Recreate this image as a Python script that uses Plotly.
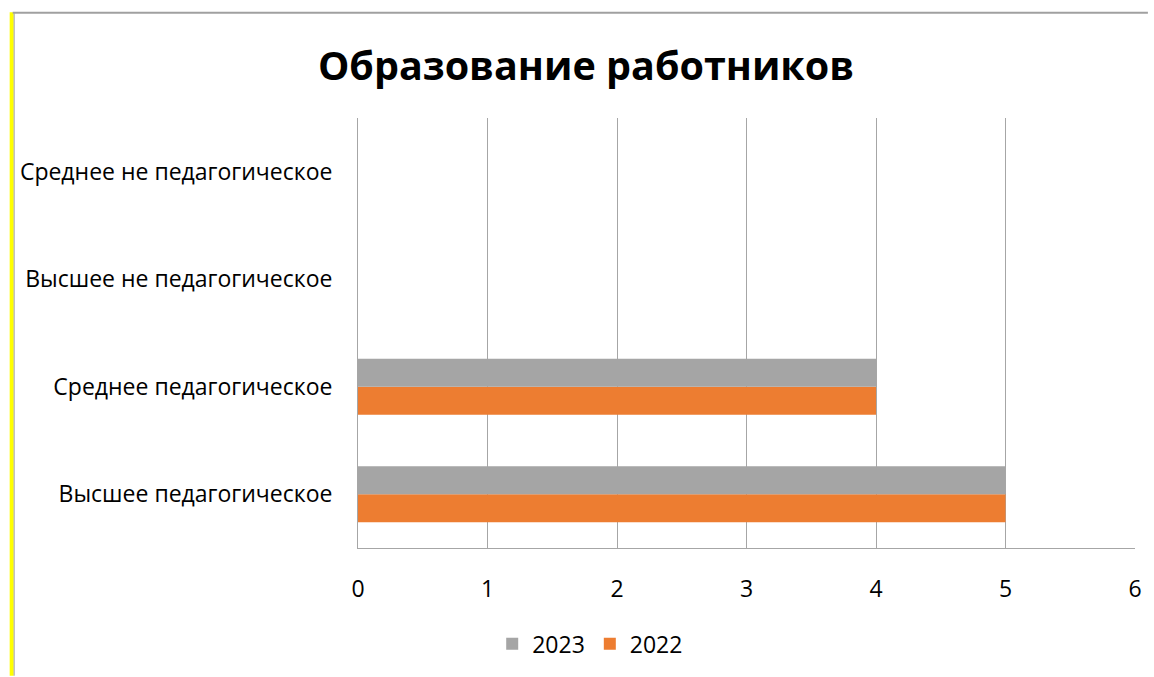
import plotly.graph_objects as go

categories = ["Высшее педагогическое", "Среднее педагогическое", "Высшее не педагогическое", "Среднее не педагогическое"]
values_2023 = [5, 4, 0, 0]
values_2022 = [5, 4, 0, 0]
x_ticks = [0, 1, 2, 3, 4, 5, 6]

font_family = "'Open Sans', Lato, sans-serif"

fig = go.Figure()
fig.add_trace(go.Bar(y=categories, x=values_2022, name="2022", orientation="h",
                     marker=dict(color="#ED7D31", line=dict(width=0))))
fig.add_trace(go.Bar(y=categories, x=values_2023, name="2023", orientation="h",
                     marker=dict(color="#A5A5A5", line=dict(width=0))))

L, R, T, B = 358, 13, 118, 128
W, H = 1154, 677
pw, ph = W - L - R, H - T - B

def px_x(p):
    return (p - L) / pw

def px_y(p):
    return (H - B - p) / ph

fig.update_layout(
    width=W, height=H,
    margin=dict(l=L, r=R, t=T, b=B),
    paper_bgcolor="white", plot_bgcolor="white",
    barmode="group", bargap=0.48, bargroupgap=0,
    title=dict(text="<b>Образование работников</b>", xref="container", x=586 / W, xanchor="center",
               yref="container", y=1 - 66 / H, yanchor="middle",
               font=dict(family=font_family, size=39.5, color="black")),
    font=dict(family=font_family, size=23, color="black"),
    xaxis=dict(range=[0, 6], tickvals=x_ticks, showgrid=True, gridcolor="#A6A6A6", gridwidth=1,
               zeroline=False, showline=True, linecolor="#A6A6A6", linewidth=1, mirror=False,
               ticks="", ticklabelstandoff=20, tickfont=dict(size=23, color="black")),
    yaxis=dict(categoryorder="array", categoryarray=categories, showgrid=False,
               showline=True, linecolor="#A6A6A6", linewidth=1, ticks="",
               ticklabelstandoff=20, tickfont=dict(size=23, color="black")),
    legend=dict(orientation="h", traceorder="reversed", x=px_x(592), xanchor="center",
                y=px_y(645), yanchor="middle", font=dict(size=23, color="black"),
                itemwidth=30, itemsizing="constant"),
    showlegend=True,
    shapes=[
        dict(type="line", xref="paper", yref="paper", x0=px_x(9), x1=px_x(9), y0=px_y(12), y1=px_y(677),
             line=dict(color="#FFFF00", width=4)),
        dict(type="line", xref="paper", yref="paper", x0=px_x(11.5), x1=px_x(11.5), y0=px_y(13), y1=px_y(677),
             line=dict(color="#A0A0A0", width=1)),
        dict(type="line", xref="paper", yref="paper", x0=px_x(10), x1=px_x(1154), y0=px_y(12.5), y1=px_y(12.5),
             line=dict(color="#A0A0A0", width=2)),
    ],
)

fig.write_html("out.html", config={"displayModeBar": False},
               post_script="document.body.style.margin='0';")
